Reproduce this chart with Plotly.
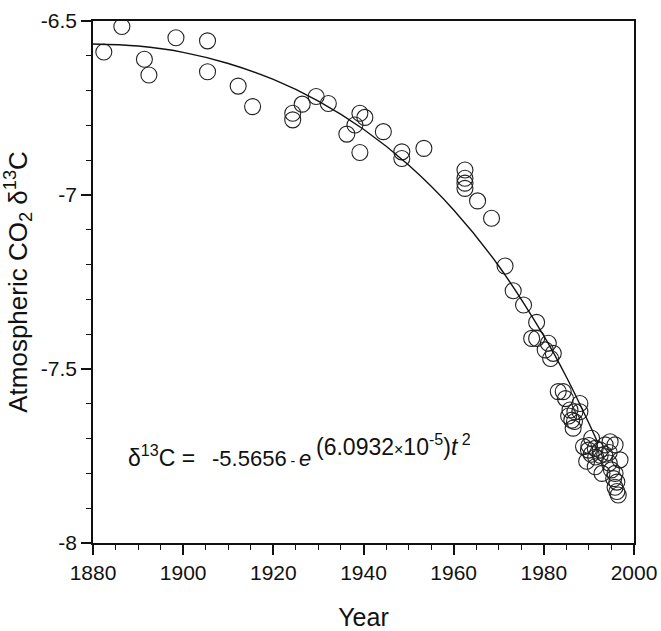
import plotly.graph_objects as go

# Measured data points (year, atmospheric CO2 delta13C)
years = [1882.4, 1886.4, 1891.4, 1892.4, 1898.4, 1905.4, 1905.4, 1912.2, 1915.4,
         1924.3, 1924.3, 1926.4, 1929.5, 1932.2, 1936.3, 1938.1, 1939.2, 1939.2,
         1940.3, 1944.4, 1948.5, 1948.5, 1953.4, 1962.5, 1962.5, 1962.5, 1962.5,
         1965.3, 1968.4, 1971.4, 1973.2, 1975.5, 1978.4, 1977.3, 1978.4, 1981.0,
         1980.3, 1982.1, 1981.5, 1983.2, 1984.3, 1984.8, 1988.0, 1985.8, 1986.9,
         1988.0, 1986.2, 1986.8, 1986.5, 1985.5, 1990.6, 1988.8, 1989.9, 1991.4,
         1992.5, 1993.6, 1994.7, 1995.8, 1990.5, 1991.5, 1992.5, 1993.5, 1994.5,
         1991.4, 1992.9, 1996.9, 1995.0, 1995.8, 1995.5, 1996.2, 1995.8, 1996.2,
         1996.5, 1994.5, 1990.0, 1989.5]
d13c = [-6.589, -6.516, -6.610, -6.655, -6.548, -6.557, -6.646, -6.687, -6.746,
        -6.765, -6.784, -6.739, -6.717, -6.737, -6.825, -6.799, -6.765, -6.878,
        -6.777, -6.818, -6.876, -6.895, -6.866, -6.928, -6.952, -6.966, -6.981,
        -7.017, -7.067, -7.204, -7.275, -7.316, -7.366, -7.412, -7.412, -7.426,
        -7.445, -7.455, -7.470, -7.565, -7.565, -7.585, -7.599, -7.618, -7.623,
        -7.623, -7.647, -7.651, -7.670, -7.635, -7.699, -7.723, -7.733, -7.728,
        -7.733, -7.718, -7.709, -7.718, -7.745, -7.753, -7.748, -7.745, -7.740,
        -7.781, -7.800, -7.761, -7.790, -7.800, -7.815, -7.825, -7.840, -7.852,
        -7.862, -7.770, -7.720, -7.765]

# Fitted curve
fit_years = [1880, 1890, 1900, 1910, 1920, 1930, 1940, 1950, 1960, 1970, 1980, 1985, 1990, 1992]
fit_vals = [-6.566, -6.572, -6.590, -6.622, -6.668, -6.730, -6.811, -6.914, -7.043,
            -7.204, -7.405, -7.523, -7.656, -7.713]

x_ticks = [1880, 1900, 1920, 1940, 1960, 1980, 2000]
y_ticks = [-6.5, -7, -7.5, -8]
y_ticktext = ["-6.5", "-7", "-7.5", "-8"]

FONT = "Liberation Sans, Arial, sans-serif"
INK = "#111111"

fig = go.Figure()
fig.add_trace(go.Scatter(
    x=years, y=d13c, mode="markers",
    marker=dict(symbol="circle-open", size=16, color="#222222", line=dict(width=1.1, color="#222222")),
    showlegend=False, hoverinfo="skip"))
fig.add_trace(go.Scatter(
    x=fit_years, y=fit_vals, mode="lines", line=dict(color="#111111", width=1.4, shape="spline"),
    showlegend=False, hoverinfo="skip"))

axis_common = dict(showline=True, linecolor=INK, linewidth=1.5, mirror=True,
                   ticks="outside", ticklen=10, tickwidth=1.5, tickcolor=INK,
                   showgrid=False, zeroline=False,
                   tickfont=dict(family=FONT, size=21, color=INK))

fig.update_xaxes(range=[1880, 2000], tickvals=x_ticks, **axis_common,
                 minor=dict(dtick=5, tick0=1880, ticks="outside", ticklen=5, tickwidth=1.3, tickcolor=INK),
                 title=dict(text="Year", font=dict(family=FONT, size=25, color=INK), standoff=34))
fig.update_yaxes(range=[-8, -6.5], tickvals=y_ticks, ticktext=y_ticktext, **axis_common,
                 minor=dict(dtick=0.1, tick0=-8, ticks="outside", ticklen=5, tickwidth=1.3, tickcolor=INK),
                 title=dict(text="Atmospheric CO<sub>2</sub> δ<sup>13</sup>C",
                            font=dict(family=FONT, size=26, color=INK), standoff=8))

def px2paper(px, py):
    return (px - 93) / 541, (543 - py) / 522

ax, ay = px2paper(126, 456)
fig.add_annotation(x=ax, y=ay, xref="paper", yref="paper", xanchor="left", yanchor="middle",
                   text="δ<sup>13</sup>C =", showarrow=False,
                   font=dict(family=FONT, size=23, color=INK))
ax, ay = px2paper(210, 458)
fig.add_annotation(x=ax, y=ay, xref="paper", yref="paper", xanchor="left", yanchor="middle",
                   text="-5.5656<span style='font-size:14px'> - </span><i>e</i>", showarrow=False,
                   font=dict(family=FONT, size=22, color=INK))
ax, ay = px2paper(314, 445)
fig.add_annotation(x=ax, y=ay, xref="paper", yref="paper", xanchor="left", yanchor="middle",
                   text="(6.0932<span style='font-size:16px'>×</span>10<sup>-5</sup>)<i>t</i><sup> 2</sup>",
                   showarrow=False, font=dict(family=FONT, size=23, color=INK))

fig.update_layout(width=661, height=631, margin=dict(l=93, r=27, t=21, b=88, autoexpand=False),
                  paper_bgcolor="white", plot_bgcolor="white")

fig.write_html("out.html", config={"displayModeBar": False},
               post_script="document.body.style.margin='0';document.body.style.overflow='hidden';")
